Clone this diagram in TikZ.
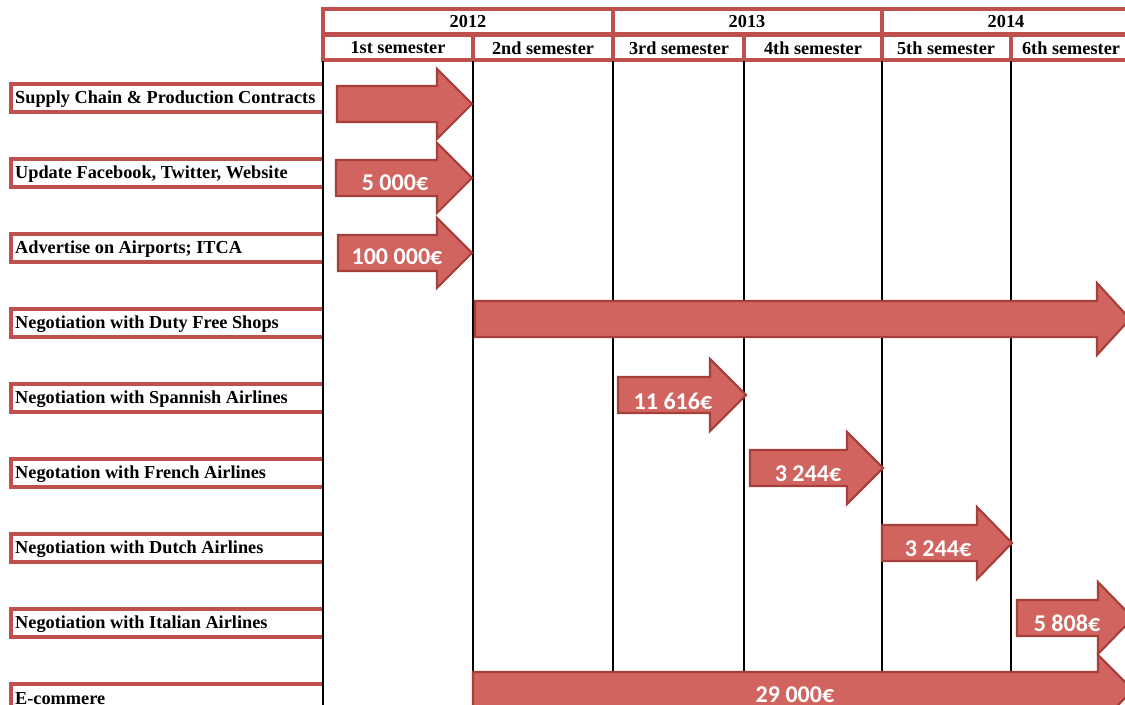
\documentclass[tikz,border=0pt]{standalone}
\usepackage{xcolor}
\definecolor{ganttred}{HTML}{C0504D}
\definecolor{ganttfill}{HTML}{D1645F}
\definecolor{ganttedge}{HTML}{A43F3B}
\usepackage{fontspec}
\setmainfont{Liberation Serif}
\newfontfamily\calib{Carlito}
\usepackage{tikz}

\begin{document}
\begin{tikzpicture}[x=0.02cm,y=-0.02cm,
  cell/.style={line width=2.2pt,draw=ganttred,fill=white},
  headtext/.style={font=\fontsize{10.4}{12}\selectfont\bfseries},
  task/.style={anchor=west,font=\fontsize{10.4}{12}\selectfont\bfseries},
  bar/.style={line width=1.2pt,draw=ganttedge,fill=ganttfill,line join=miter},
  cost/.style={text=white,font=\calib\fontsize{13.7}{15}\selectfont\bfseries}]

\useasboundingbox (0,0) rectangle (1125,705);
\clip (0,0) rectangle (1125,705);

\draw[cell] (323,9) rectangle (613,34);
\draw[cell] (613,9) rectangle (882,34);
\draw[cell] (882,9) rectangle (1135,34);
\node[headtext] (y12) at (468,22) {2012};
\node[headtext] (y13) at (747,22) {2013};
\node[headtext] (y14) at (1006,22) {2014};

\draw[cell] (323,35) rectangle (473,60);
\draw[cell] (473,35) rectangle (613,60);
\draw[cell] (613,35) rectangle (744,60);
\draw[cell] (744,35) rectangle (882,60);
\draw[cell] (882,35) rectangle (1011,60);
\draw[cell] (1011,35) rectangle (1135,60);
\node[headtext] (s1) at (398,48) {1st semester};
\node[headtext] (s2) at (543,48) {2nd semester};
\node[headtext] (s3) at (679,48) {3rd semester};
\node[headtext] (s4) at (813,48) {4th semester};
\node[headtext] (s5) at (946,48) {5th semester};
\node[headtext] (s6) at (1071,48) {6th semester};

\draw[cell] (323,84) -- (11,84) -- (11,112) -- (323,112);
\node[task] (t1) at (9,99) {Supply Chain \& Production Contracts};
\draw[cell] (323,159) -- (11,159) -- (11,187) -- (323,187);
\node[task] (t2) at (9,174) {Update Facebook, Twitter, Website};
\draw[cell] (323,234) -- (11,234) -- (11,262) -- (323,262);
\node[task] (t3) at (9,249) {Advertise on Airports; ITCA};
\draw[cell] (323,309) -- (11,309) -- (11,337) -- (323,337);
\node[task] (t4) at (9,324) {Negotiation with Duty Free Shops};
\draw[cell] (323,384) -- (11,384) -- (11,412) -- (323,412);
\node[task] (t5) at (9,399) {Negotiation with Spannish Airlines};
\draw[cell] (323,459) -- (11,459) -- (11,487) -- (323,487);
\node[task] (t6) at (9,474) {Negotation with French Airlines};
\draw[cell] (323,534) -- (11,534) -- (11,562) -- (323,562);
\node[task] (t7) at (9,549) {Negotiation with Dutch Airlines};
\draw[cell] (323,609) -- (11,609) -- (11,637) -- (323,637);
\node[task] (t8) at (9,624) {Negotiation with Italian Airlines};
\draw[cell] (323,684) -- (11,684) -- (11,712) -- (323,712);
\node[task] (t9) at (9,699) {E-commere};

\draw[line width=1.5pt] (323,61) -- (323,705);
\draw[line width=1.5pt] (473,61) -- (473,705);
\draw[line width=1.5pt] (613,61) -- (613,705);
\draw[line width=1.5pt] (744,61) -- (744,705);
\draw[line width=1.5pt] (882,61) -- (882,705);
\draw[line width=1.5pt] (1011,61) -- (1011,705);

\draw[bar] (337,86) -- (437,86) -- (437,69) -- (472,104) -- (437,139) -- (437,122) -- (337,122) -- cycle;
\draw[bar] (336,160) -- (437,160) -- (437,143) -- (472,178) -- (437,213) -- (437,196) -- (336,196) -- cycle;
\node[cost] (c2) at (395,183) {5 000€};
\draw[bar] (338,235) -- (437,235) -- (437,218) -- (472,253) -- (437,288) -- (437,271) -- (338,271) -- cycle;
\node[cost] (c3) at (397,257) {100 000€};
\draw[bar] (475,301) -- (1097,301) -- (1097,283) -- (1130,319) -- (1097,355) -- (1097,337) -- (475,337) -- cycle;
\draw[bar] (618,377) -- (710,377) -- (710,359) -- (746,395) -- (710,431) -- (710,413) -- (618,413) -- cycle;
\node[cost] (c5) at (673,401) {11 616€};
\draw[bar] (750,450) -- (847,450) -- (847,432) -- (883,468) -- (847,504) -- (847,486) -- (750,486) -- cycle;
\node[cost] (c6) at (808,474) {3 244€};
\draw[bar] (882,525) -- (977,525) -- (977,507) -- (1012,543) -- (977,579) -- (977,561) -- (882,561) -- cycle;
\node[cost] (c7) at (938,549) {3 244€};
\draw[bar] (1017,600) -- (1098,600) -- (1098,582) -- (1133,618) -- (1098,654) -- (1098,636) -- (1017,636) -- cycle;
\node[cost] (c8) at (1067,623) {5 808€};
\draw[bar] (473,672) -- (1098,672) -- (1098,655) -- (1133,690) -- (1098,725) -- (1098,708) -- (473,708) -- cycle;
\node[cost] (c9) at (795,695) {29 000€};
\end{tikzpicture}
\end{document}
